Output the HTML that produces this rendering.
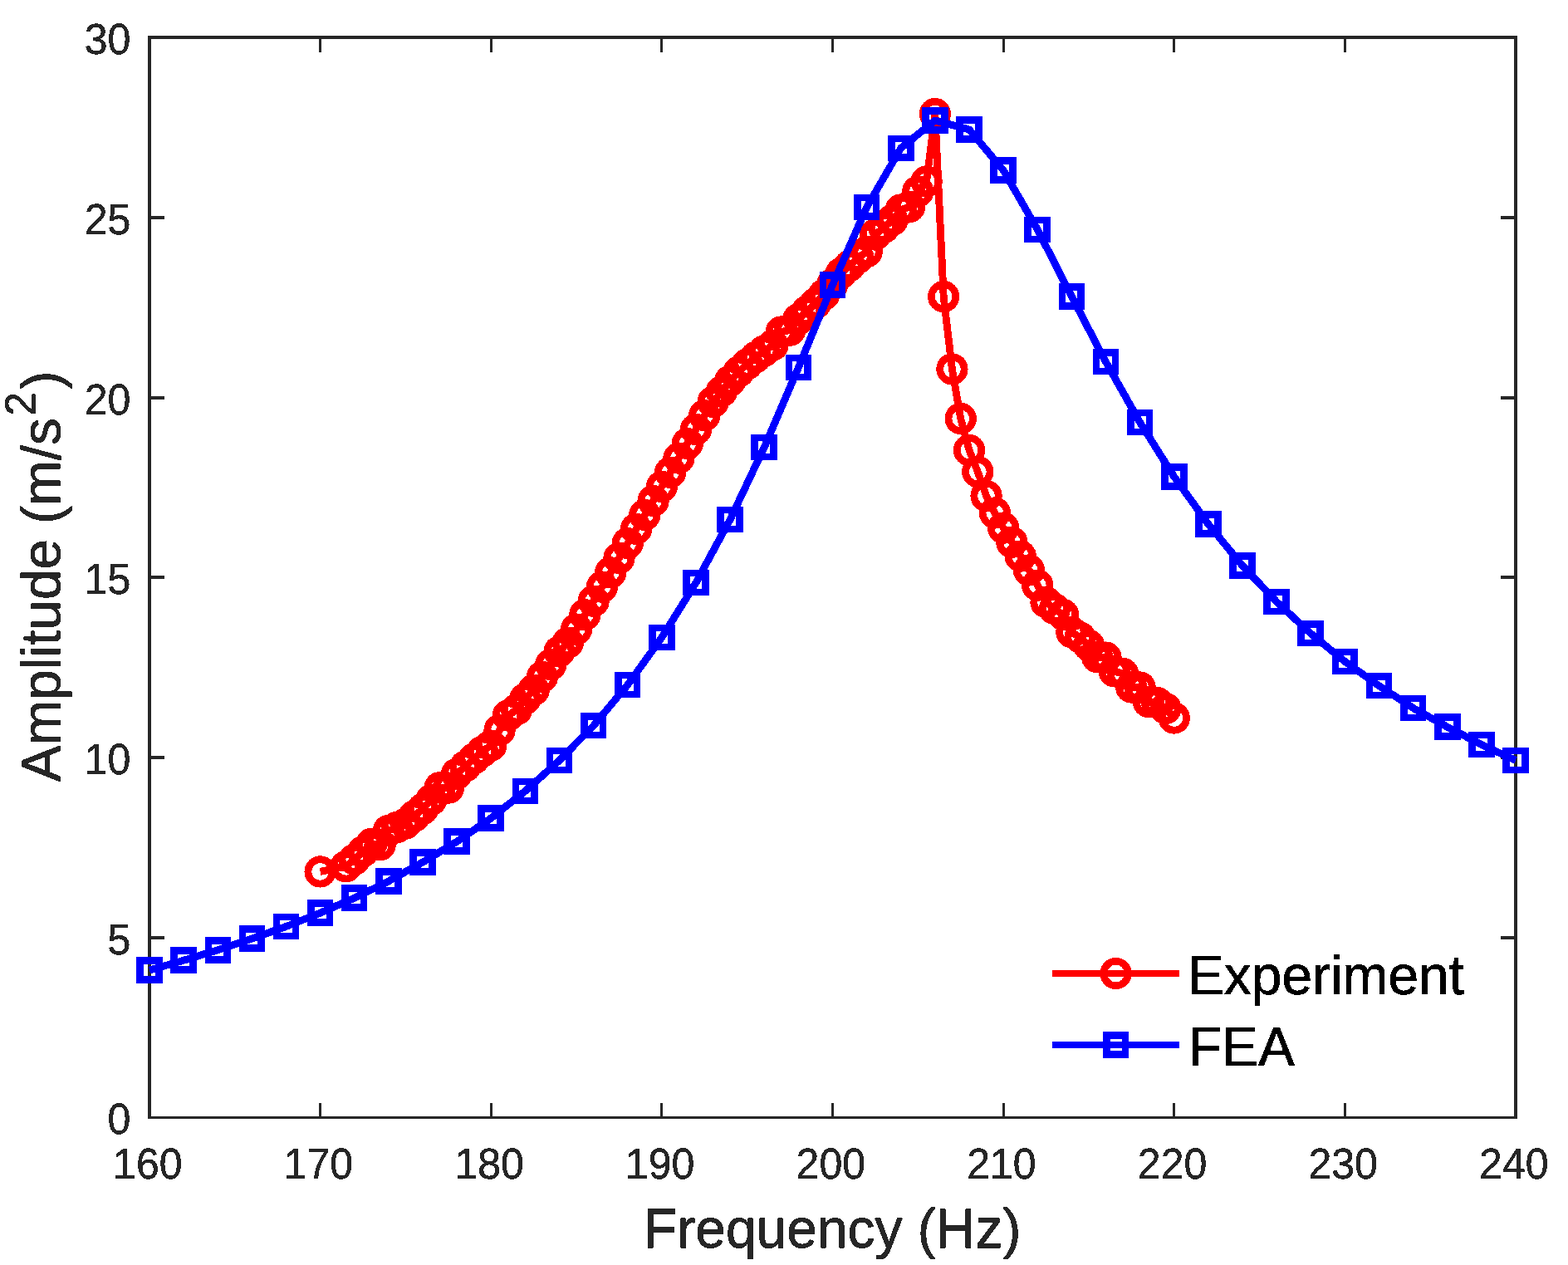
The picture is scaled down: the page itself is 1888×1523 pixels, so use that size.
<!DOCTYPE html>
<html lang="en"><head><meta charset="utf-8"><title>Amplitude vs Frequency: Experiment and FEA</title>
<style>html,body{margin:0;padding:0;background:#fff;}body{width:1888px;height:1523px;overflow:hidden;}svg{display:block;}text{font-family:"Liberation Sans",Arial,Helvetica,sans-serif;}</style></head><body>
<svg width="1888" height="1523" viewBox="0 0 1888 1523">
<rect x="0" y="0" width="1888" height="1523" fill="#ffffff"/>
<defs><filter id="crisp" filterUnits="userSpaceOnUse" x="0" y="0" width="1888" height="1523" color-interpolation-filters="sRGB"><feComponentTransfer><feFuncA type="discrete" tableValues="0 1"/></feComponentTransfer></filter></defs>
<g fill="#262626" shape-rendering="crispEdges">
<rect x="178" y="43" width="4" height="1304"/>
<rect x="1823" y="43" width="4" height="1304"/>
<rect x="178" y="43" width="1649" height="4"/>
<rect x="178" y="1344" width="1649" height="3"/>
<rect x="384" y="1328" width="3" height="16"/>
<rect x="384" y="47" width="3" height="16"/>
<rect x="590" y="1328" width="3" height="16"/>
<rect x="590" y="47" width="3" height="16"/>
<rect x="795" y="1328" width="3" height="16"/>
<rect x="795" y="47" width="3" height="16"/>
<rect x="1001" y="1328" width="3" height="16"/>
<rect x="1001" y="47" width="3" height="16"/>
<rect x="1207" y="1328" width="3" height="16"/>
<rect x="1207" y="47" width="3" height="16"/>
<rect x="1412" y="1328" width="3" height="16"/>
<rect x="1412" y="47" width="3" height="16"/>
<rect x="1618" y="1328" width="3" height="16"/>
<rect x="1618" y="47" width="3" height="16"/>
<rect x="182" y="1127" width="16" height="4"/>
<rect x="1807" y="1127" width="16" height="4"/>
<rect x="182" y="910" width="16" height="4"/>
<rect x="1807" y="910" width="16" height="4"/>
<rect x="182" y="693" width="16" height="4"/>
<rect x="1807" y="693" width="16" height="4"/>
<rect x="182" y="477" width="16" height="4"/>
<rect x="1807" y="477" width="16" height="4"/>
<rect x="182" y="260" width="16" height="4"/>
<rect x="1807" y="260" width="16" height="4"/>
</g>
<g filter="url(#crisp)">
<g font-size="50" fill="#262626" stroke="#262626" stroke-width="0.4">
<g text-anchor="middle">
<text transform="translate(177.8 1418.7) scale(1.0 1.02)">160</text>
<text transform="translate(383.43 1418.7) scale(1.0 1.02)">170</text>
<text transform="translate(589.05 1418.7) scale(1.0 1.02)">180</text>
<text transform="translate(794.67 1418.7) scale(1.0 1.02)">190</text>
<text transform="translate(1000.3 1418.7) scale(1.0 1.02)">200</text>
<text transform="translate(1205.92 1418.7) scale(1.0 1.02)">210</text>
<text transform="translate(1411.55 1418.7) scale(1.0 1.02)">220</text>
<text transform="translate(1617.17 1418.7) scale(1.0 1.02)">230</text>
<text transform="translate(1822.8 1418.7) scale(1.0 1.02)">240</text>
</g><g text-anchor="end">
<text transform="translate(157.4 1365.4) scale(1.0 1.02)">0</text>
<text transform="translate(157.4 1148.73) scale(1.0 1.02)">5</text>
<text transform="translate(157.4 932.07) scale(1.0 1.02)">10</text>
<text transform="translate(157.4 715.4) scale(1.0 1.02)">15</text>
<text transform="translate(157.4 498.73) scale(1.0 1.02)">20</text>
<text transform="translate(157.4 282.07) scale(1.0 1.02)">25</text>
<text transform="translate(157.4 65.4) scale(1.0 1.02)">30</text>
</g></g>
<text transform="translate(1002.2 1501.6) scale(0.989 1)" font-size="66.67" fill="#262626" stroke="#262626" stroke-width="0.8" text-anchor="middle">Frequency (Hz)</text>
<text transform="translate(72.5 941.4) rotate(-90) scale(0.986 1)" font-size="66.67" fill="#262626" stroke="#262626" stroke-width="0.8">Amplitude (m/s<tspan font-size="52" dx="2.6" dy="-30">2</tspan><tspan dx="3.4" dy="30">)</tspan></text>
</g>
<g fill="none" stroke="#ff0000" stroke-linejoin="round" shape-rendering="crispEdges">
<polyline points="385.62,1049.4 416.47,1043.25 426.75,1034.75 437.03,1025.25 447.31,1015.75 457.59,1017.25 467.88,1000 478.16,996 488.44,991.5 498.72,982.7 509,974 519.28,963 529.56,948.25 539.84,948.6 550.12,931.6 560.41,922.6 570.69,913.4 580.97,904.7 591.25,897.5 601.53,879 611.81,861.5 622.09,854.3 632.38,841.3 642.66,830.7 652.94,814.9 663.22,800.1 673.5,784.5 683.78,773.7 694.06,757.6 704.34,740.25 714.62,723.75 724.91,706.6 735.19,689.4 745.47,671.9 755.75,654.1 766.03,636.9 776.31,620 786.59,603 796.88,585.9 807.16,568.75 817.44,551.6 827.72,534.1 838,517 848.28,500.25 858.56,484 868.84,471.4 879.12,458.6 889.41,447.7 899.69,438.4 909.97,430 920.25,422.5 930.53,415.6 940.81,399.5 951.09,397.6 961.38,384.3 971.66,374.8 981.94,365.3 992.22,354.7 1002.5,342 1012.78,329 1023.06,320 1033.34,310.3 1043.62,303.1 1053.91,282.5 1064.19,274 1074.47,265 1084.75,252.5 1095.03,249 1105.31,230.5 1115.59,218.5 1125.88,137.1 1136.16,357.1 1146.44,444.4 1156.72,504 1167,542 1177.28,568 1187.56,597 1197.84,617.5 1208.12,635.6 1218.41,652.8 1228.69,669.6 1238.97,686.5 1249.25,704.6 1259.53,725 1269.81,733.1 1280.09,740 1290.38,761.25 1300.66,767.5 1310.94,776.9 1321.22,791.2 1331.5,791.6 1341.78,808.3 1352.06,811 1362.34,827.5 1372.62,827.5 1382.91,845 1393.19,845.9 1403.47,853 1413.75,864.5" stroke-width="8.9"/>
<g stroke-width="8.8">
<circle cx="385.62" cy="1049.4" r="14.75"/>
<circle cx="416.47" cy="1043.25" r="14.75"/>
<circle cx="426.75" cy="1034.75" r="14.75"/>
<circle cx="437.03" cy="1025.25" r="14.75"/>
<circle cx="447.31" cy="1015.75" r="14.75"/>
<circle cx="457.59" cy="1017.25" r="14.75"/>
<circle cx="467.88" cy="1000" r="14.75"/>
<circle cx="478.16" cy="996" r="14.75"/>
<circle cx="488.44" cy="991.5" r="14.75"/>
<circle cx="498.72" cy="982.7" r="14.75"/>
<circle cx="509" cy="974" r="14.75"/>
<circle cx="519.28" cy="963" r="14.75"/>
<circle cx="529.56" cy="948.25" r="14.75"/>
<circle cx="539.84" cy="948.6" r="14.75"/>
<circle cx="550.12" cy="931.6" r="14.75"/>
<circle cx="560.41" cy="922.6" r="14.75"/>
<circle cx="570.69" cy="913.4" r="14.75"/>
<circle cx="580.97" cy="904.7" r="14.75"/>
<circle cx="591.25" cy="897.5" r="14.75"/>
<circle cx="601.53" cy="879" r="14.75"/>
<circle cx="611.81" cy="861.5" r="14.75"/>
<circle cx="622.09" cy="854.3" r="14.75"/>
<circle cx="632.38" cy="841.3" r="14.75"/>
<circle cx="642.66" cy="830.7" r="14.75"/>
<circle cx="652.94" cy="814.9" r="14.75"/>
<circle cx="663.22" cy="800.1" r="14.75"/>
<circle cx="673.5" cy="784.5" r="14.75"/>
<circle cx="683.78" cy="773.7" r="14.75"/>
<circle cx="694.06" cy="757.6" r="14.75"/>
<circle cx="704.34" cy="740.25" r="14.75"/>
<circle cx="714.62" cy="723.75" r="14.75"/>
<circle cx="724.91" cy="706.6" r="14.75"/>
<circle cx="735.19" cy="689.4" r="14.75"/>
<circle cx="745.47" cy="671.9" r="14.75"/>
<circle cx="755.75" cy="654.1" r="14.75"/>
<circle cx="766.03" cy="636.9" r="14.75"/>
<circle cx="776.31" cy="620" r="14.75"/>
<circle cx="786.59" cy="603" r="14.75"/>
<circle cx="796.88" cy="585.9" r="14.75"/>
<circle cx="807.16" cy="568.75" r="14.75"/>
<circle cx="817.44" cy="551.6" r="14.75"/>
<circle cx="827.72" cy="534.1" r="14.75"/>
<circle cx="838" cy="517" r="14.75"/>
<circle cx="848.28" cy="500.25" r="14.75"/>
<circle cx="858.56" cy="484" r="14.75"/>
<circle cx="868.84" cy="471.4" r="14.75"/>
<circle cx="879.12" cy="458.6" r="14.75"/>
<circle cx="889.41" cy="447.7" r="14.75"/>
<circle cx="899.69" cy="438.4" r="14.75"/>
<circle cx="909.97" cy="430" r="14.75"/>
<circle cx="920.25" cy="422.5" r="14.75"/>
<circle cx="930.53" cy="415.6" r="14.75"/>
<circle cx="940.81" cy="399.5" r="14.75"/>
<circle cx="951.09" cy="397.6" r="14.75"/>
<circle cx="961.38" cy="384.3" r="14.75"/>
<circle cx="971.66" cy="374.8" r="14.75"/>
<circle cx="981.94" cy="365.3" r="14.75"/>
<circle cx="992.22" cy="354.7" r="14.75"/>
<circle cx="1002.5" cy="342" r="14.75"/>
<circle cx="1012.78" cy="329" r="14.75"/>
<circle cx="1023.06" cy="320" r="14.75"/>
<circle cx="1033.34" cy="310.3" r="14.75"/>
<circle cx="1043.62" cy="303.1" r="14.75"/>
<circle cx="1053.91" cy="282.5" r="14.75"/>
<circle cx="1064.19" cy="274" r="14.75"/>
<circle cx="1074.47" cy="265" r="14.75"/>
<circle cx="1084.75" cy="252.5" r="14.75"/>
<circle cx="1095.03" cy="249" r="14.75"/>
<circle cx="1105.31" cy="230.5" r="14.75"/>
<circle cx="1115.59" cy="218.5" r="14.75"/>
<circle cx="1125.88" cy="137.1" r="14.75"/>
<circle cx="1136.16" cy="357.1" r="14.75"/>
<circle cx="1146.44" cy="444.4" r="14.75"/>
<circle cx="1156.72" cy="504" r="14.75"/>
<circle cx="1167" cy="542" r="14.75"/>
<circle cx="1177.28" cy="568" r="14.75"/>
<circle cx="1187.56" cy="597" r="14.75"/>
<circle cx="1197.84" cy="617.5" r="14.75"/>
<circle cx="1208.12" cy="635.6" r="14.75"/>
<circle cx="1218.41" cy="652.8" r="14.75"/>
<circle cx="1228.69" cy="669.6" r="14.75"/>
<circle cx="1238.97" cy="686.5" r="14.75"/>
<circle cx="1249.25" cy="704.6" r="14.75"/>
<circle cx="1259.53" cy="725" r="14.75"/>
<circle cx="1269.81" cy="733.1" r="14.75"/>
<circle cx="1280.09" cy="740" r="14.75"/>
<circle cx="1290.38" cy="761.25" r="14.75"/>
<circle cx="1300.66" cy="767.5" r="14.75"/>
<circle cx="1310.94" cy="776.9" r="14.75"/>
<circle cx="1321.22" cy="791.2" r="14.75"/>
<circle cx="1331.5" cy="791.6" r="14.75"/>
<circle cx="1341.78" cy="808.3" r="14.75"/>
<circle cx="1352.06" cy="811" r="14.75"/>
<circle cx="1362.34" cy="827.5" r="14.75"/>
<circle cx="1372.62" cy="827.5" r="14.75"/>
<circle cx="1382.91" cy="845" r="14.75"/>
<circle cx="1393.19" cy="845.9" r="14.75"/>
<circle cx="1403.47" cy="853" r="14.75"/>
<circle cx="1413.75" cy="864.5" r="14.75"/>
</g></g>
<g fill="none" stroke="#0000ff" stroke-linejoin="round" shape-rendering="crispEdges">
<polyline points="180,1168 221.12,1156.25 262.25,1143.75 303.38,1130 344.5,1115.5 385.62,1099.1 426.75,1081.25 467.88,1060.9 509,1038.1 550.12,1013.25 591.25,985 632.38,952.5 673.5,915.5 714.62,873.75 755.75,824.5 796.88,767.5 838,701.5 879.12,625.5 920.25,538.5 961.38,442.5 1002.5,343 1043.62,249.4 1084.75,178.4 1125.88,145 1167,156 1208.12,205 1249.25,276.5 1290.38,357 1331.5,435.75 1372.62,508.5 1413.75,574 1454.88,631 1496,681 1537.12,724.5 1578.25,762.75 1619.38,796.5 1660.5,825.75 1701.62,852.5 1742.75,875.25 1783.88,896.5 1825,915.5" stroke-width="8.9"/>
<g stroke-width="8.7" stroke-linejoin="miter">
<rect x="168.6" y="1156.6" width="22.8" height="22.8"/>
<rect x="209.72" y="1144.85" width="22.8" height="22.8"/>
<rect x="250.85" y="1132.35" width="22.8" height="22.8"/>
<rect x="291.98" y="1118.6" width="22.8" height="22.8"/>
<rect x="333.1" y="1104.1" width="22.8" height="22.8"/>
<rect x="374.23" y="1087.7" width="22.8" height="22.8"/>
<rect x="415.35" y="1069.85" width="22.8" height="22.8"/>
<rect x="456.48" y="1049.5" width="22.8" height="22.8"/>
<rect x="497.6" y="1026.7" width="22.8" height="22.8"/>
<rect x="538.73" y="1001.85" width="22.8" height="22.8"/>
<rect x="579.85" y="973.6" width="22.8" height="22.8"/>
<rect x="620.98" y="941.1" width="22.8" height="22.8"/>
<rect x="662.1" y="904.1" width="22.8" height="22.8"/>
<rect x="703.23" y="862.35" width="22.8" height="22.8"/>
<rect x="744.35" y="813.1" width="22.8" height="22.8"/>
<rect x="785.48" y="756.1" width="22.8" height="22.8"/>
<rect x="826.6" y="690.1" width="22.8" height="22.8"/>
<rect x="867.73" y="614.1" width="22.8" height="22.8"/>
<rect x="908.85" y="527.1" width="22.8" height="22.8"/>
<rect x="949.98" y="431.1" width="22.8" height="22.8"/>
<rect x="991.1" y="331.6" width="22.8" height="22.8"/>
<rect x="1032.22" y="238" width="22.8" height="22.8"/>
<rect x="1073.35" y="167" width="22.8" height="22.8"/>
<rect x="1114.47" y="133.6" width="22.8" height="22.8"/>
<rect x="1155.6" y="144.6" width="22.8" height="22.8"/>
<rect x="1196.72" y="193.6" width="22.8" height="22.8"/>
<rect x="1237.85" y="265.1" width="22.8" height="22.8"/>
<rect x="1278.97" y="345.6" width="22.8" height="22.8"/>
<rect x="1320.1" y="424.35" width="22.8" height="22.8"/>
<rect x="1361.22" y="497.1" width="22.8" height="22.8"/>
<rect x="1402.35" y="562.6" width="22.8" height="22.8"/>
<rect x="1443.47" y="619.6" width="22.8" height="22.8"/>
<rect x="1484.6" y="669.6" width="22.8" height="22.8"/>
<rect x="1525.72" y="713.1" width="22.8" height="22.8"/>
<rect x="1566.85" y="751.35" width="22.8" height="22.8"/>
<rect x="1607.97" y="785.1" width="22.8" height="22.8"/>
<rect x="1649.1" y="814.35" width="22.8" height="22.8"/>
<rect x="1690.22" y="841.1" width="22.8" height="22.8"/>
<rect x="1731.35" y="863.85" width="22.8" height="22.8"/>
<rect x="1772.47" y="885.1" width="22.8" height="22.8"/>
<rect x="1813.6" y="904.1" width="22.8" height="22.8"/>
</g></g>
<g fill="none" shape-rendering="crispEdges">
<path d="M1267 1172H1420" stroke="#ff0000" stroke-width="8.2"/>
<circle cx="1343.6" cy="1172" r="14.75" stroke="#ff0000" stroke-width="8.8"/>
<path d="M1267 1258H1420" stroke="#0000ff" stroke-width="8.2"/>
<rect x="1332.2" y="1246.6" width="22.8" height="22.8" stroke="#0000ff" stroke-width="8.7"/>
</g>
<g font-size="66.67" fill="#000000" stroke="#000000" stroke-width="0.8" filter="url(#crisp)">
<text transform="translate(1429.9 1196.6) scale(0.988 1)">Experiment</text>
<text transform="translate(1430.8 1282.5) scale(0.988 1)">FEA</text>
</g>
</svg></body></html>
